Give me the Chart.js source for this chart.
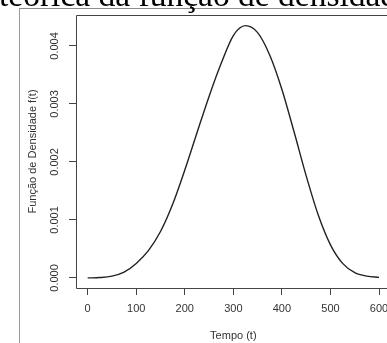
<!DOCTYPE html>
<html>
<head>
<meta charset="utf-8">
<script src="https://cdn.jsdelivr.net/npm/chart.js@4"></script>
<style>
  html, body { margin: 0; padding: 0; background: #fff; overflow: hidden; width: 387px; height: 343px; }
  #frame { position: absolute; left: 19px; top: 8px; width: 420px; height: 400px;
           border-top: 1px solid #8c8c8c; border-left: 1px solid #9a9a9a; }
  #wrap { position: absolute; left: 0; top: 0; width: 420px; height: 343px; }
  #title { position: absolute; left: -1px; top: -22px; white-space: nowrap;
           font-family: "Liberation Serif", "DejaVu Serif", serif; font-size: 33.5px; line-height: 33.5px; color: #000; }
</style>
</head>
<body>
<div id="frame"></div>
<div id="wrap"><canvas id="c" width="420" height="343"></canvas></div>
<div id="title">teórica da função de densidade</div>
<script>
// ---- data ----
const tempo = [0, 25, 50, 75, 100, 125, 150, 175, 200, 225, 250, 275, 300, 325, 350, 375, 400, 425, 450, 475, 500, 525, 550, 575, 600];
const densidade = [0.0, 0.000006, 0.00003, 0.00010, 0.00025, 0.00047, 0.00080, 0.00127, 0.00186, 0.00250, 0.00313, 0.00370, 0.00418, 0.00435, 0.00423, 0.00384, 0.00325, 0.00252, 0.00176, 0.00108, 0.00057, 0.00025, 0.00009, 0.00003, 0.00001];
const xTicks = [0, 100, 200, 300, 400, 500, 600];
const yTicks = [0, 0.001, 0.002, 0.003, 0.004];
const yTickLabels = ['0.000', '0.001', '0.002', '0.003', '0.004'];
const xTitle = 'Tempo (t)';
const yTitle = 'Função de Densidade f(t)';

const AXIS = '#444';
const FONT = '"Liberation Sans", Arial, sans-serif';

const boxPlugin = {
  id: 'rbox',
  afterDraw(chart) {
    const {ctx, chartArea: a} = chart;
    ctx.save();
    ctx.strokeStyle = AXIS;
    ctx.lineWidth = 1;
    ctx.beginPath();
    ctx.moveTo(a.right + 5, Math.round(a.top) + 0.5);
    ctx.lineTo(Math.round(a.left) + 0.5, Math.round(a.top) + 0.5);
    ctx.lineTo(Math.round(a.left) + 0.5, Math.round(a.bottom) + 0.5);
    ctx.lineTo(a.right + 5, Math.round(a.bottom) + 0.5);
    ctx.stroke();
    // rotated y tick labels (R style)
    const ys = chart.scales.y;
    ctx.fillStyle = '#333';
    ctx.font = '11px ' + FONT;
    ctx.textAlign = 'center';
    ctx.textBaseline = 'middle';
    ys.ticks.forEach((tk, i) => {
      const py = ys.getPixelForValue(tk.value);
      ctx.save();
      ctx.translate(55, py);
      ctx.rotate(-Math.PI / 2);
      ctx.fillText(yTickLabels[i], 0, 0);
      ctx.restore();
    });
    ctx.restore();
  }
};

new Chart(document.getElementById('c'), {
  type: 'line',
  data: {
    datasets: [{
      data: tempo.map((t, i) => ({x: t, y: densidade[i]})),
      borderColor: '#222',
      borderWidth: 1.4,
      pointRadius: 0,
      fill: false,
      cubicInterpolationMode: 'monotone'
    }]
  },
  options: {
    responsive: false,
    animation: false,
    events: [],
    layout: { padding: { left: 0, top: 15, right: 29.3, bottom: 0 } },
    plugins: { legend: { display: false }, tooltip: { enabled: false }, title: { display: false } },
    scales: {
      x: {
        type: 'linear',
        min: -24, max: 624,
        afterBuildTicks(s) { s.ticks = xTicks.map(v => ({value: v})); },
        afterFit(s) { s.height = 55; },
        border: { display: false },
        grid: { drawOnChartArea: false, drawTicks: true, tickLength: 7, tickColor: AXIS, tickWidth: 1 },
        ticks: { color: '#333', font: { family: FONT, size: 11 }, padding: 7, maxRotation: 0, autoSkip: false,
                 callback: (v) => String(v) },
        title: { display: true, text: xTitle, color: '#333', font: { family: FONT, size: 11 }, padding: { top: 0, bottom: 0 } }
      },
      y: {
        min: -0.000174, max: 0.004534,
        afterBuildTicks(s) { s.ticks = yTicks.map(v => ({value: v})); },
        afterFit(s) { s.width = 76; },
        border: { display: false },
        grid: { drawOnChartArea: false, drawTicks: true, tickLength: 7, tickColor: AXIS, tickWidth: 1 },
        ticks: { display: true, color: 'rgba(0,0,0,0)', font: { family: FONT, size: 11 }, padding: 2,
                 callback: (v, i) => yTickLabels[i] },
        title: { display: true, text: yTitle, color: '#333', font: { family: FONT, size: 11 }, padding: { top: 26, bottom: 0 } }
      }
    }
  },
  plugins: [boxPlugin]
});
</script>
</body>
</html>
